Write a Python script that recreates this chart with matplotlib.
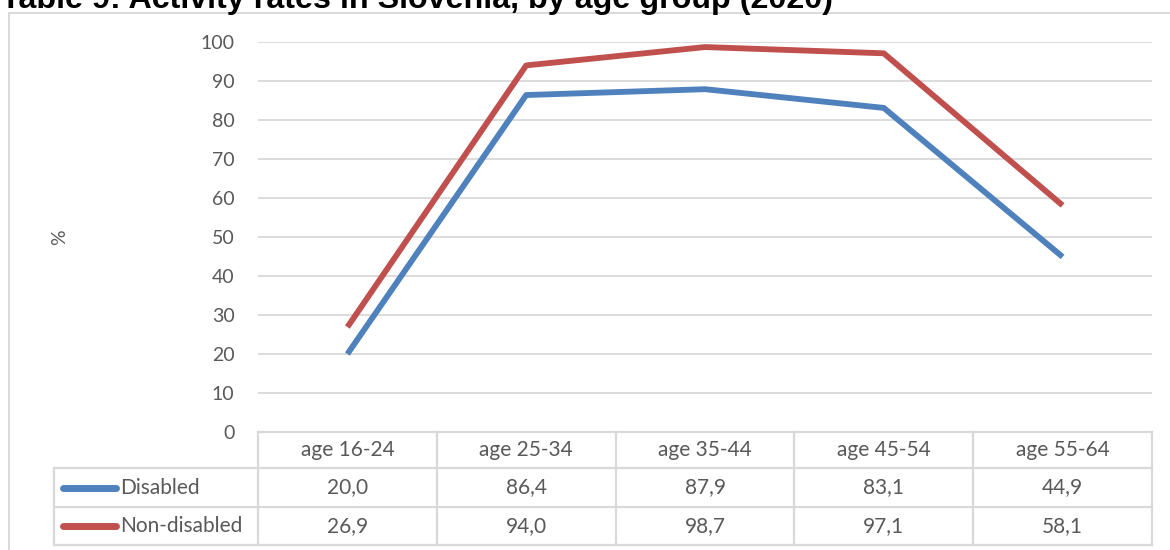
import matplotlib
matplotlib.use("Agg")
import matplotlib.pyplot as plt
from matplotlib.lines import Line2D
import matplotlib.transforms as mtransforms

categories = ["age 16-24", "age 25-34", "age 35-44", "age 45-54", "age 55-64"]
disabled = [20.0, 86.4, 87.9, 83.1, 44.9]
non_disabled = [26.9, 94.0, 98.7, 97.1, 58.1]
series_names = ["Disabled", "Non-disabled"]
colors = ["#4F81BD", "#C0504D"]
yticks = [0, 10, 20, 30, 40, 50, 60, 70, 80, 90, 100]
title = "Table 9: Activity rates in Slovenia, by age group (2020)"

W, H = 1170, 550
fig = plt.figure(figsize=(W / 100, H / 100), dpi=100)
fig.patch.set_facecolor("white")

def fx(px):
    return px / W

def fy(py):
    return 1 - py / H

grid_c = "#D9D9D9"
txt_c = "#595959"
font = "Lato"
fs = 15

# outer chart border
fig.add_artist(Line2D([fx(9), fx(9)], [fy(13), fy(552)], color=grid_c, lw=1.4))
fig.add_artist(Line2D([fx(9), fx(1172)], [fy(13), fy(13)], color=grid_c, lw=1.4))

# title (partially cut off at top, as in the reference)
fig.text(fx(1), fy(8), title, fontsize=23.2, fontweight="bold",
         family="Liberation Sans", color="black", va="baseline", ha="left")

left, right, top, bottom = 258, 1152, 42, 432
ax = fig.add_axes([fx(left), fy(bottom), fx(right) - fx(left), fy(top) - fy(bottom)])
ax.set_xlim(-0.5, len(categories) - 0.5)
ax.set_ylim(0, 100)
ax.set_yticks(yticks)
ax.set_yticklabels([str(v) for v in yticks], fontsize=14, color=txt_c, family=font)
ax.tick_params(axis="y", length=0, pad=17)
ax.set_xticks([])
ax.grid(axis="y", color=grid_c, lw=1.3)
ax.set_axisbelow(True)
for s in ax.spines.values():
    s.set_visible(False)

xs = list(range(len(categories)))
ax.plot(xs, disabled, color=colors[0], lw=4.2, solid_capstyle="butt", zorder=3)
ax.plot(xs, non_disabled, color=colors[1], lw=4.2, solid_capstyle="butt", zorder=3)

fig.text(fx(60), fy(237), "%", rotation=90, fontsize=14, color=txt_c,
         family=font, ha="center", va="center")

# data table below axis
tr = mtransforms.blended_transform_factory(ax.transData, ax.transAxes)
trf = mtransforms.blended_transform_factory(fig.transFigure, ax.transAxes)
ah = bottom - top
r0, r1, r2, r3 = 0, -(468 - bottom) / ah, -(507 - bottom) / ah, -(545 - bottom) / ah
lwt = 1.6
tl = 54
ax.plot([-0.5, len(categories) - 0.5], [r0, r0], transform=tr, color=grid_c, lw=lwt, clip_on=False)
for r in (r1, r2, r3):
    ax.add_line(Line2D([fx(tl), fx(right)], [r, r], transform=trf, color=grid_c, lw=lwt, clip_on=False))
for i in range(len(categories) + 1):
    ax.plot([i - 0.5, i - 0.5], [r0, r3], transform=tr, color=grid_c, lw=lwt, clip_on=False)
ax.add_line(Line2D([fx(tl), fx(tl)], [r1, r3], transform=trf, color=grid_c, lw=lwt, clip_on=False))

for i, c in enumerate(categories):
    ax.text(i, (r0 + r1) / 2, c, transform=tr, ha="center", va="center",
            fontsize=fs, color=txt_c, family=font)
    ax.text(i, (r1 + r2) / 2, f"{disabled[i]:.1f}".replace(".", ","), transform=tr,
            ha="center", va="center", fontsize=fs, color=txt_c, family=font)
    ax.text(i, (r2 + r3) / 2, f"{non_disabled[i]:.1f}".replace(".", ","), transform=tr,
            ha="center", va="center", fontsize=fs, color=txt_c, family=font)

for name, col, (ra, rb) in zip(series_names, colors, [(r1, r2), (r2, r3)]):
    ym = (ra + rb) / 2
    ax.add_line(Line2D([fx(63), fx(116)], [ym, ym], transform=trf, color=col, lw=5,
                       solid_capstyle="round", clip_on=False))
    ax.text(fx(120), ym, name, transform=trf, ha="left", va="center",
            fontsize=fs, color=txt_c, family=font)

fig.savefig("out.png", dpi=100, facecolor="white")
